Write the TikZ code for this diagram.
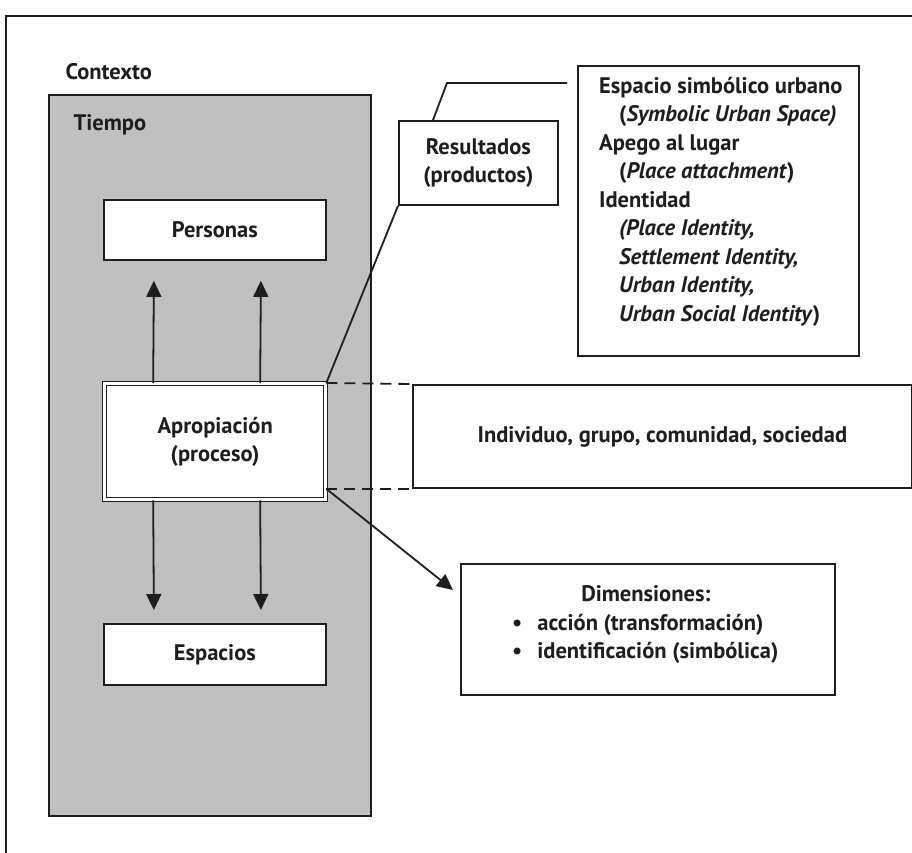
\documentclass[tikz,border=0pt]{standalone}
\usepackage{fontspec}
\setmainfont{PT Sans}
\usetikzlibrary{arrows.meta}
\definecolor{tgray}{RGB}{192,192,192}
\definecolor{ink}{RGB}{30,30,30}
\begin{document}
\begin{tikzpicture}[x=1pt,y=-1pt,
  every node/.style={font=\bfseries\fontsize{22.5}{28.5}\selectfont, text=ink},
  box/.style={draw=ink, line width=1.8pt, fill=white, anchor=north west, inner sep=0pt, align=center},
  ln/.style={draw=ink, line width=1.8pt},
  arr/.style={ln, -{Triangle[width=15pt,length=16pt]}},
  dsh/.style={ln, dash pattern=on 11pt off 7pt}]
\useasboundingbox (0,0) rectangle (912,853);
\fill[white] (0,0) rectangle (912,853);
% outer context frame
\coordinate (fa) at (6,853);
\coordinate (fb) at (6,16);
\coordinate (fc) at (912,16);
\draw[ln] (fa) -- (fb) -- (fc);
\node[anchor=west] (ctx) at (62,72) {Contexto};
% time box
\node[draw=ink, line width=1.8pt, fill=tgray, anchor=north west, minimum width=322pt, minimum height=721pt, inner sep=0pt] (tiempo) at (48,94) {};
\node[anchor=west] (tlab) at (70,125) {Tiempo};
% inner boxes
\node[box, minimum width=222pt, minimum height=60pt] (pers) at (103,199) {Personas};
\node[box, double=white, double distance=2.5pt, line width=1.3pt, minimum width=221pt, minimum height=116pt] (aprop) at (104,383) {Apropiación\\(proceso)};
\node[box, minimum width=222pt, minimum height=61pt] (esp) at (103,623) {Espacios};
% arrows
\draw[arr] ([xshift=-62pt]aprop.north) -- ([xshift=-61pt,yshift=-20pt]pers.south);
\draw[arr] ([xshift=45pt]aprop.north) -- ([xshift=46pt,yshift=-20pt]pers.south);
\draw[arr] ([xshift=-62pt]aprop.south) -- ([xshift=-61pt,yshift=13pt]esp.north);
\draw[arr] ([xshift=45pt]aprop.south) -- ([xshift=46pt,yshift=13pt]esp.north);
% results
\node[box, minimum width=159pt, minimum height=84pt] (res) at (398,120) {Resultados\\(productos)};
\node[box, minimum width=281pt, minimum height=290pt] (sym) at (577,65) {};
\node[anchor=north west, align=left, inner sep=0pt] (symt) at (599,77) {%
Espacio simbólico urbano\\
\hspace*{20pt}(\textit{Symbolic Urban Space)}\\
Apego al lugar\\
\hspace*{20pt}(\textit{Place attachment})\\
Identidad\\
\hspace*{20pt}\textit{(Place Identity,}\\
\hspace*{20pt}\textit{Settlement Identity,}\\
\hspace*{20pt}\textit{Urban Identity,}\\
\hspace*{20pt}\textit{Urban Social Identity})};
\coordinate (l1) at (447,83);
\coordinate (l2) at (567,83);
\draw[ln] ([xshift=35pt]res.north west) -- (l1) -- (l2);
\draw[ln] (res.south west) -- (aprop.north east);
% individuo
\node[box, minimum width=499pt, minimum height=103pt] (ind) at (412,384) {Individuo, grupo, comunidad, sociedad};
\draw[dsh] (aprop.north east) -- (ind.north west);
\draw[dsh] (aprop.east |- ind.south west) -- (ind.south west);
% dimensiones
\node[box, minimum width=374pt, minimum height=131pt] (dim) at (460,563) {};
\node[anchor=base] (dimt) at ([xshift=-2pt,yshift=-38pt]dim.north) {Dimensiones:};
\node[anchor=north west, align=left, inner sep=0pt] (diml) at ([xshift=52pt,yshift=-51pt]dim.north west) {\textbullet\hspace{15pt}acción (transformación)\\\textbullet\hspace{15pt}identificación (simbólica)};
\coordinate (tip) at (453,590);
\draw[arr] (aprop.east |- ind.south west) -- (tip);
\end{tikzpicture}
\end{document}
